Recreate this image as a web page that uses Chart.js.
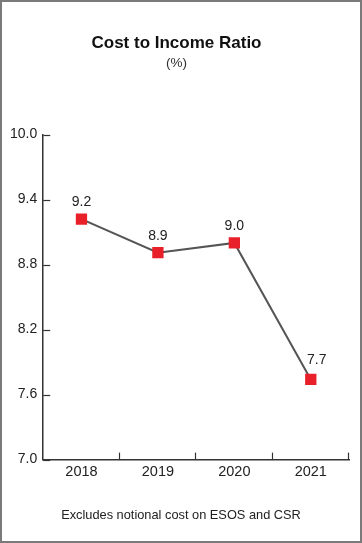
<!DOCTYPE html>
<html>
<head>
<meta charset="utf-8">
<script src="https://cdn.jsdelivr.net/npm/chart.js@4.4.0/dist/chart.umd.min.js"></script>
<style>
  body { margin: 0; background: #fff; }
  #wrap { position: relative; width: 362px; height: 543px; }
  #frame { position: absolute; left: 0; top: 0; width: 362px; height: 543px; box-sizing: border-box;
           border: 2px solid #7a7a7a; pointer-events: none; }
  #note { position: absolute; left: 0; width: 362px; top: 507px; text-align: center;
          font-family: "Liberation Sans", Arial, sans-serif; font-size: 12.8px; color: #222; }
</style>
</head>
<body>
<div id="wrap">
  <canvas id="chart-cost_income" width="362" height="543"></canvas>
  <div id="note">Excludes notional cost on ESOS and CSR</div>
  <div id="frame"></div>
</div>
<script>
const years = ['2018', '2019', '2020', '2021']
const costIncome = [9.22, 8.91, 9.00, 7.74]
const yTicks = [7.0, 7.6, 8.2, 8.8, 9.4, 10.0]

const lineColor = '#555555'
const markerColor = '#e8202a'
const textColor = '#222222'
const fontName = '"Liberation Sans", Arial, sans-serif'

// ticks drawn inward + value labels above points
const innerTicks = {
    id: 'innerTicks',
    afterDatasetsDraw(chart) {
        var ctx = chart.ctx
        var x = chart.scales.x
        var y = chart.scales.y
        ctx.save()
        ctx.strokeStyle = '#333'
        ctx.lineWidth = 1.2
        var i
        for (i = 0; i < yTicks.length; i++) {
            var py = Math.round(y.getPixelForValue(yTicks[i])) + 0.5
            ctx.beginPath()
            ctx.moveTo(x.left, py)
            ctx.lineTo(x.left + 7, py)
            ctx.stroke()
        }
        var half = (x.getPixelForValue(1) - x.getPixelForValue(0)) / 2
        for (i = 0; i < years.length; i++) {
            var px = Math.round(x.getPixelForValue(i) + half) - 0.5
            ctx.beginPath()
            ctx.moveTo(px, y.bottom)
            ctx.lineTo(px, y.bottom - 7)
            ctx.stroke()
        }
        var meta = chart.getDatasetMeta(0)
        ctx.fillStyle = textColor
        ctx.font = '14px ' + fontName
        ctx.textAlign = 'center'
        ctx.textBaseline = 'middle'
        for (i = 0; i < meta.data.length; i++) {
            var pt = meta.data[i]
            var dx = 0
            var dy = 17
            // steep line coming in from above: push the label clear of it
            if (i > 0 && meta.data[i - 1].y < pt.y - 60) {
                dx = 6
                dy = 19
            }
            ctx.fillText(costIncome[i].toFixed(1), pt.x + dx, pt.y - dy)
        }
        ctx.restore()
    }
}

var ctx = document.getElementById('chart-cost_income')
var lineChart = new Chart(ctx, {
    type: 'line',
    data: {
        labels: years,
        datasets: [{
            data: costIncome,
            borderColor: lineColor,
            borderWidth: 2,
            lineTension: 0,
            fill: false,
            pointStyle: 'rect',
            pointRadius: 8,
            pointBorderWidth: 0,
            pointBackgroundColor: markerColor,
        }]
    },
    options: {
        responsive: false,
        animation: false,
        layout: { padding: { left: 4, right: 13, top: 33, bottom: 58 } },
        plugins: {
            legend: { display: false },
            tooltip: { enabled: false },
            title: {
                display: true,
                text: 'Cost to Income Ratio',
                color: '#111',
                font: { family: fontName, size: 17, weight: 'bold' },
                padding: { top: 0, bottom: 2 }
            },
            subtitle: {
                display: true,
                text: '(%)',
                color: '#333',
                font: { family: fontName, size: 13.5 },
                padding: { top: 0, bottom: 63 }
            }
        },
        scales: {
            x: {
                offset: true,
                grid: { display: false, drawTicks: false },
                border: { display: true, color: '#333', width: 1.5 },
                ticks: { color: textColor, font: { family: fontName, size: 14.5 }, padding: 4 }
            },
            y: {
                min: 7.0,
                max: 10.0,
                afterBuildTicks(scale) {
                    scale.ticks = yTicks.map(v => ({ value: v }))
                },
                grid: { display: false, drawTicks: false },
                border: { display: true, color: '#333', width: 1.5 },
                ticks: {
                    color: textColor,
                    font: { family: fontName, size: 14 },
                    padding: 6,
                    callback: v => Number(v).toFixed(1)
                }
            }
        }
    },
    plugins: [innerTicks]
})
</script>
</body>
</html>
